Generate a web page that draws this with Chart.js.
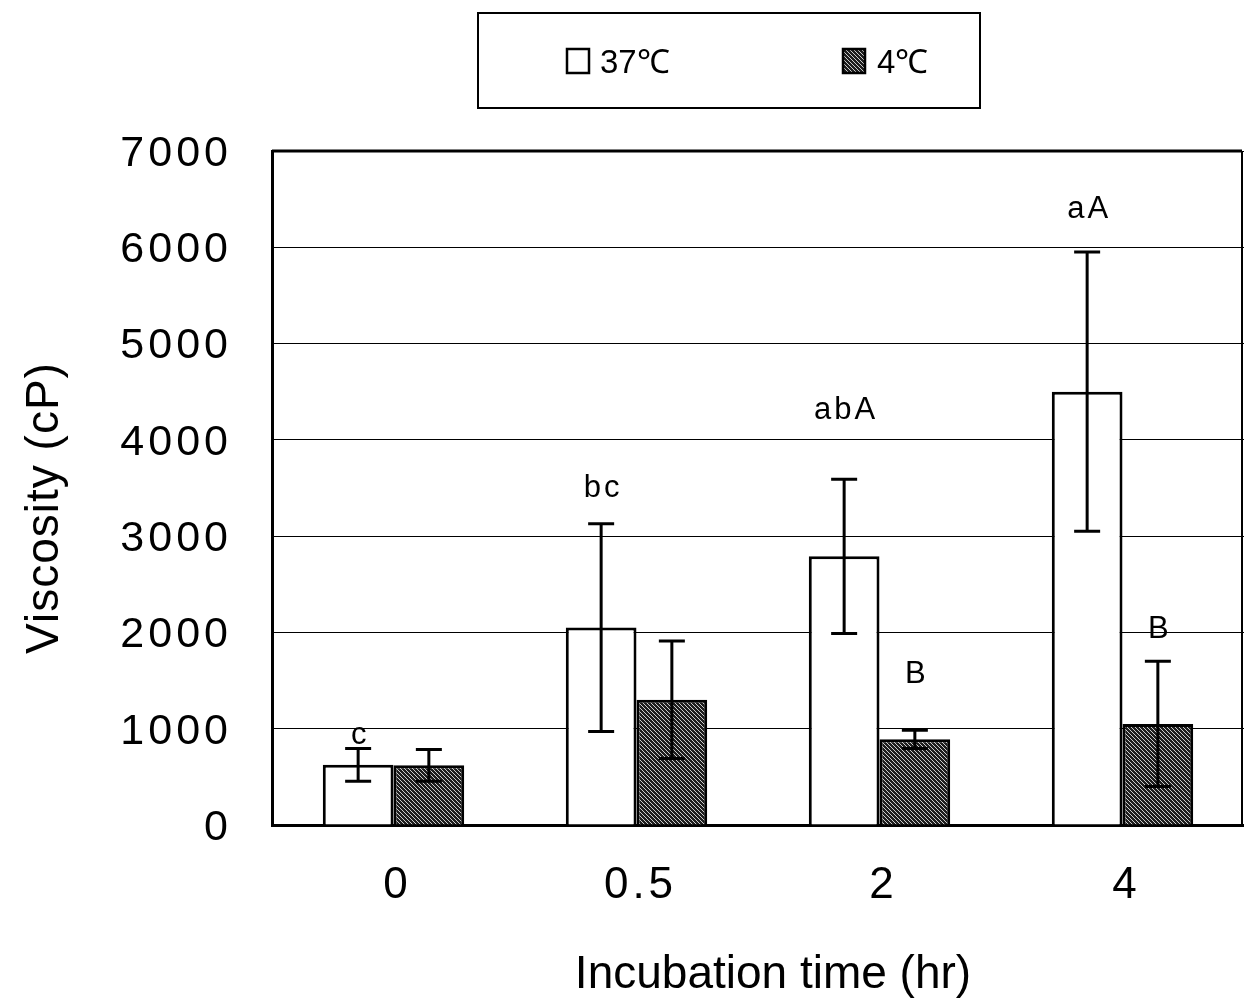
<!DOCTYPE html>
<html>
<head>
<meta charset="utf-8">
<script src="https://cdn.jsdelivr.net/npm/chart.js@4.4.1/dist/chart.umd.min.js"></script>
<style>
  html, body { margin: 0; padding: 0; background: #fff; }
  #wrap { width: 1244px; height: 1003px; }
</style>
</head>
<body>
<div id="wrap"><canvas id="c" width="1244" height="1003"></canvas></div>
<script>
// ---- data ----
const categories = ['0', '0.5', '2', '4'];
const seriesNames = ['37\u2103', '4\u2103'];
const mean37 = [625, 2050, 2790, 4500];
const sd37 = [170, 1080, 800, 1450];
const mean4 = [620, 1300, 890, 1050];
const sd4 = [165, 610, 95, 650];
const letters37 = ['c', 'bc', 'abA', 'aA'];
const letters4 = ['', '', 'B', 'B'];
const letterAt37 = [935, 3500, 4310, 6390];
const letterAt4 = [null, null, 1560, 2030];
const yTicks = [0, 1000, 2000, 3000, 4000, 5000, 6000, 7000];
const xTitle = 'Incubation time (hr)';
const yTitle = 'Viscosity (cP)';

// hatch pattern for 4°C bars
function makeHatch() {
  const t = document.createElement('canvas');
  t.width = 4; t.height = 4;
  const g = t.getContext('2d');
  g.fillStyle = '#1e1e1e';
  g.fillRect(0, 0, 4, 4);
  g.strokeStyle = 'rgba(235,235,235,0.85)';
  g.lineWidth = 1;
  g.beginPath();
  g.moveTo(-1, -1); g.lineTo(5, 5);
  g.moveTo(-3, 1); g.lineTo(1, 5);
  g.moveTo(1, -3); g.lineTo(5, 1);
  g.stroke();
  return g.createPattern(t, 'repeat');
}
const hatch = makeHatch();

const FONT = "'Liberation Sans', Arial, sans-serif";

const decorPlugin = {
  id: 'decor',
  beforeDraw(chart) {
    chart.ctx.letterSpacing = '4px';
  },
  afterDatasetsDraw(chart) {
    const ctx = chart.ctx;
    const y = chart.scales.y;
    const sds = [sd37, sd4];
    ctx.save();
    ctx.letterSpacing = '0px';
    ctx.strokeStyle = '#000';
    ctx.lineWidth = 3;
    chart.data.datasets.forEach((ds, di) => {
      const meta = chart.getDatasetMeta(di);
      meta.data.forEach((bar, i) => {
        const m = ds.data[i], s = sds[di][i];
        const yt = y.getPixelForValue(m + s), yb = y.getPixelForValue(m - s);
        const x = bar.x;
        ctx.beginPath();
        ctx.moveTo(x, yt); ctx.lineTo(x, yb);
        ctx.moveTo(x - 13, yt); ctx.lineTo(x + 13, yt);
        ctx.moveTo(x - 13, yb); ctx.lineTo(x + 13, yb);
        ctx.stroke();
      });
    });
    // significance letters
    ctx.fillStyle = '#000';
    ctx.font = '31px ' + FONT;
    ctx.letterSpacing = '3px';
    ctx.textAlign = 'center';
    ctx.textBaseline = 'middle';
    const L = [[letters37, letterAt37], [letters4, letterAt4]];
    L.forEach(([txt, at], di) => {
      const meta = chart.getDatasetMeta(di);
      txt.forEach((t, i) => {
        if (!t) return;
        ctx.fillText(t, meta.data[i].x + 2, y.getPixelForValue(at[i]));
      });
    });
    ctx.restore();
  },
  afterDraw(chart) {
    const ctx = chart.ctx;
    const a = chart.chartArea;
    const rightEdge = Math.min(a.right, chart.width - 2);
    ctx.save();
    ctx.letterSpacing = '0px';
    // plot frame (top & right)
    ctx.strokeStyle = '#000';
    ctx.lineWidth = 3;
    ctx.beginPath();
    ctx.moveTo(a.left, a.top); ctx.lineTo(rightEdge, a.top);
    ctx.stroke();
    ctx.lineWidth = 2;
    ctx.beginPath();
    ctx.moveTo(rightEdge, a.top); ctx.lineTo(rightEdge, a.bottom);
    ctx.stroke();
    // axis titles
    ctx.fillStyle = '#000';
    ctx.font = '46px ' + FONT;
    ctx.letterSpacing = '0px';
    ctx.textAlign = 'center';
    ctx.textBaseline = 'middle';
    ctx.fillText(xTitle, 773, 975);
    ctx.save();
    ctx.translate(45, 508);
    ctx.rotate(-Math.PI / 2);
    ctx.letterSpacing = '1px';
    ctx.fillText(yTitle, 0, 0);
    ctx.restore();
    // legend
    ctx.lineWidth = 2;
    ctx.strokeRect(478, 13, 502, 95);
    const items = [[567, 600], [843, 877]];
    ctx.font = '33px ' + FONT;
    ctx.letterSpacing = '0px';
    ctx.textAlign = 'left';
    ctx.textBaseline = 'alphabetic';
    chart.data.datasets.forEach((ds, di) => {
      const [bx, tx] = items[di];
      ctx.fillStyle = ds.backgroundColor;
      ctx.fillRect(bx, 49, 22, 24);
      ctx.lineWidth = 2.5;
      ctx.strokeStyle = '#000';
      ctx.strokeRect(bx, 49, 22, 24);
      ctx.fillStyle = '#000';
      ctx.fillText(ds.label, tx, 73);
    });
    ctx.restore();
  }
};

new Chart(document.getElementById('c'), {
  type: 'bar',
  data: {
    labels: categories,
    datasets: [
      { label: seriesNames[0], data: mean37, backgroundColor: '#ffffff', borderColor: '#000', borderWidth: 3,
        categoryPercentage: 0.582, barPercentage: 1.0 },
      { label: seriesNames[1], data: mean4, backgroundColor: hatch, borderColor: '#000', borderWidth: 3,
        categoryPercentage: 0.582, barPercentage: 1.0 }
    ]
  },
  options: {
    responsive: false,
    animation: false,
    devicePixelRatio: 1,
    layout: { padding: { top: 151, right: -4, left: 0, bottom: 0 } },
    plugins: { legend: { display: false }, tooltip: { enabled: false } },
    scales: {
      x: {
        grid: { display: false, drawTicks: false },
        border: { display: true, color: '#000', width: 3 },
        ticks: { color: '#000', font: { family: FONT, size: 44 }, padding: 34, labelOffset: 4, maxRotation: 0 },
        afterFit(s) { s.height = 178; }
      },
      y: {
        min: 0, max: 7000,
        afterBuildTicks(s) { s.ticks = yTicks.map(v => ({ value: v })); },
        grid: { color: '#000', lineWidth: 1, drawTicks: false },
        border: { display: true, color: '#000', width: 3 },
        ticks: { color: '#000', font: { family: FONT, size: 43 }, padding: 40, labelOffset: 3,
                 callback: (v) => String(v) },
        afterFit(s) { s.width = 272; }
      }
    }
  },
  plugins: [decorPlugin]
});
</script>
</body>
</html>
